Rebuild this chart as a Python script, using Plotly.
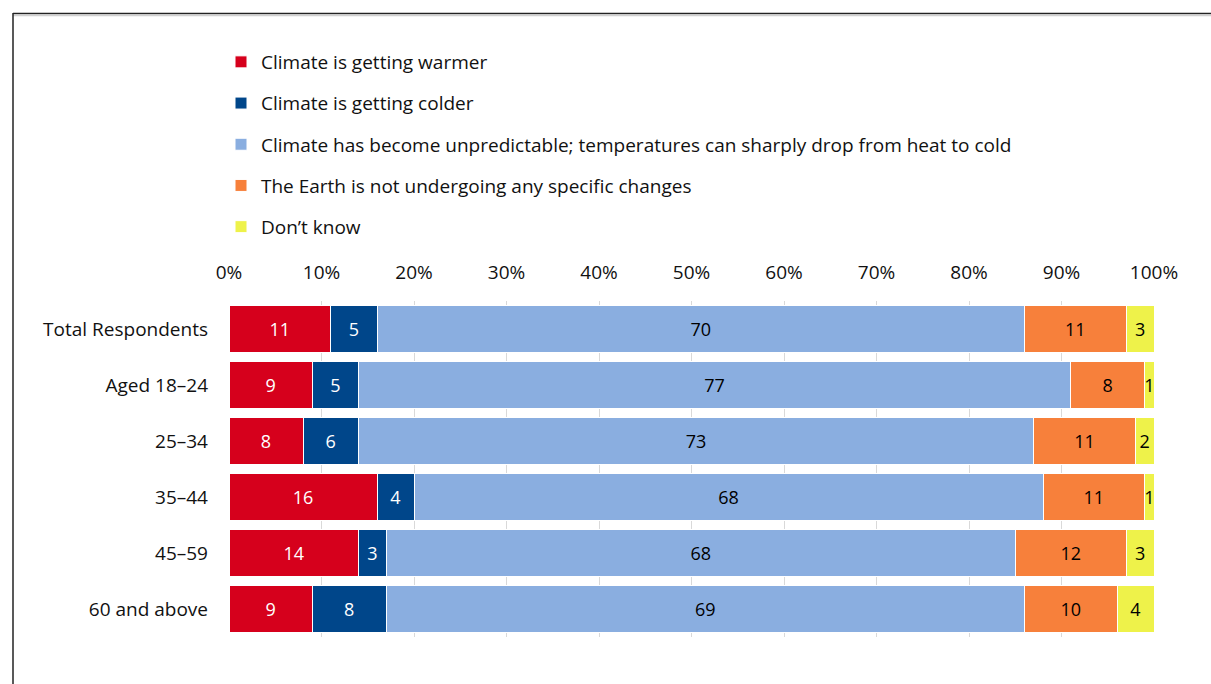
import plotly.graph_objects as go

groups = ["Total Respondents", "Aged 18–24", "25–34", "35–44", "45–59", "60 and above"]
series_names = [
    "Climate is getting warmer",
    "Climate is getting colder",
    "Climate has become unpredictable; temperatures can sharply drop from heat to cold",
    "The Earth is not undergoing any specific changes",
    "Don’t know",
]
warmer = [11, 9, 8, 16, 14, 9]
colder = [5, 5, 6, 4, 3, 8]
unpredictable = [70, 77, 73, 68, 68, 69]
no_change = [11, 8, 11, 11, 12, 10]
dont_know = [3, 1, 2, 1, 3, 4]

series_values = [warmer, colder, unpredictable, no_change, dont_know]
colors = ["#d6001c", "#00468a", "#8aaee0", "#f7803b", "#eef24a"]
text_colors = ["white", "white", "black", "black", "black"]

FONT = "Open Sans"

fig = go.Figure()
for i, (name, vals, col, tcol) in enumerate(zip(series_names, series_values, colors, text_colors)):
    fig.add_trace(go.Bar(
        y=groups, x=vals, name=name, orientation="h",
        marker=dict(color=col, line=dict(color="white", width=1)),
        text=[str(v) for v in vals], textposition="inside",
        insidetextanchor="middle", textangle=0, constraintext="none",
        textfont=dict(family=FONT, size=18, color=tcol),
        legendgroup=f"g{i}", hoverinfo="x+y+name",
    ))

W, H = 1211, 684
L, R, T, B = 229, 57, 301, 47
pw, ph = W - L - R, H - T - B

def px_x(p):
    return (p - L) / pw

def px_y(p):
    return 1 - (p - T) / ph

fig.update_layout(
    width=W, height=H,
    barmode="stack", bargap=0.16,
    margin=dict(l=L, r=R, t=T, b=B),
    paper_bgcolor="white", plot_bgcolor="white",
    font=dict(family=FONT, size=19, color="#111111"),
    uniformtext=dict(minsize=18, mode="show"),
    legend=dict(
        orientation="v", x=px_x(221), y=px_y(43), xanchor="left", yanchor="top",
        traceorder="grouped", tracegroupgap=13.5,
        font=dict(family=FONT, size=19, color="#111111"),
        itemclick=False,
    ),
    xaxis=dict(
        side="top", range=[0, 100], dtick=10, ticksuffix="%",
        showgrid=True, gridcolor="#d9d9d9", gridwidth=1,
        zeroline=False, showline=False, ticks="",
        ticklabelstandoff=17, tickfont=dict(size=19),
    ),
    yaxis=dict(
        autorange="reversed", showgrid=False, showline=False, ticks="",
        ticklabelstandoff=20, tickfont=dict(size=19),
    ),
    shapes=[
        dict(type="line", xref="paper", yref="paper",
             x0=px_x(13), x1=px_x(1215), y0=px_y(13.5), y1=px_y(13.5),
             line=dict(color="#222222", width=1.5)),
        dict(type="line", xref="paper", yref="paper",
             x0=px_x(13), x1=px_x(1215), y0=px_y(15.5), y1=px_y(15.5),
             line=dict(color="#d0d0d0", width=1.5)),
        dict(type="line", xref="paper", yref="paper",
             x0=px_x(13), x1=px_x(13), y0=px_y(13), y1=px_y(690),
             line=dict(color="#222222", width=1.5)),
    ],
)

fig.write_html("out.html")
